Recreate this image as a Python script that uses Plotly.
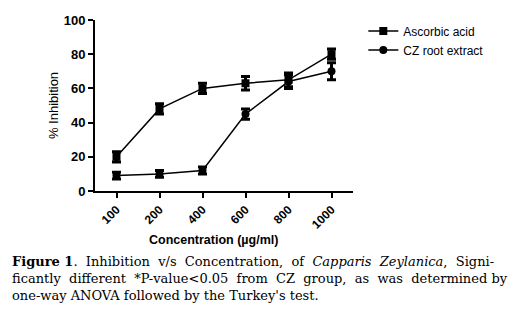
import plotly.graph_objects as go

categories = ["100", "200", "400", "600", "800", "1000"]
ascorbic = [20, 48, 60, 63, 65, 80]
ascorbic_err = [3, 3, 3, 4, 4, 3]
cz_root = [9, 10, 12, 45, 64, 70]
cz_err = [2, 2, 2, 3, 4, 5]
y_ticks = [0, 20, 40, 60, 80, 100]

fig = go.Figure()
fig.add_trace(go.Scatter(
    x=categories, y=ascorbic, name="Ascorbic acid", mode="lines+markers",
    line=dict(color="black", width=1.5),
    marker=dict(symbol="square", size=8, color="black"),
    error_y=dict(type="data", array=ascorbic_err, color="black", thickness=3, width=4.5),
))
fig.add_trace(go.Scatter(
    x=categories, y=cz_root, name="CZ root extract", mode="lines+markers",
    line=dict(color="black", width=1.5),
    marker=dict(symbol="circle", size=8, color="black"),
    error_y=dict(type="data", array=cz_err, color="black", thickness=3, width=4.5),
))

fig.add_annotation(x=categories[-1], y=ascorbic[-1] + ascorbic_err[-1], yshift=12,
                   text="*", showarrow=False, font=dict(size=12, color="#4a6a9a", family="Arial"))

# x-axis title
fig.add_annotation(xref="paper", yref="paper", x=(213 - 95) / 258, y=(191 - 240) / 171,
                   xanchor="center", yanchor="middle", text="Concentration (µg/ml)", showarrow=False,
                   font=dict(size=12.5, family="Arial", weight="bold", color="black"))

sp = "&nbsp;"
line1 = ("<b>Figure 1</b>." + sp + " Inhibition " + sp + "v/s " + sp + "Concentration, " + sp + "of " + sp
         + "<i>Capparis</i> " + sp + "<i>Zeylanica</i>, " + sp + "Signi-")
line2 = ("ficantly " + sp + "different " + sp + "*P-value&lt;0.05 " + sp + "from " + sp + "CZ " + sp + "group, "
         + sp + "as " + sp + "was " + sp + "determined " + "by")
line3 = "one-way ANOVA followed by the Turkey's test."
for txt, ypx in [(line1, 261), (line2, 278), (line3, 295)]:
    fig.add_annotation(xref="paper", yref="paper", x=(10 - 95) / 258, y=(191 - ypx) / 171,
                       xanchor="left", yanchor="middle", align="left", text=txt,
                       showarrow=False, font=dict(size=13, family="DejaVu Serif", color="black"))

fig.update_layout(
    width=515, height=312,
    margin=dict(l=95, r=162, t=20, b=121),
    plot_bgcolor="white", paper_bgcolor="white",
    font=dict(family="Arial", color="black"),
    showlegend=True,
    legend=dict(x=1.04, y=1.02, xanchor="left", yanchor="top", itemwidth=30,
                font=dict(size=12, family="Arial", color="black"),
                bgcolor="rgba(0,0,0,0)", tracegroupgap=0),
    xaxis=dict(type="category", range=[-0.5, 5.5], showline=True, linecolor="black", linewidth=2,
               ticks="outside", ticklen=5, tickwidth=2, tickcolor="black", tickangle=-45,
               tickfont=dict(size=12, family="Arial", weight="bold"), showgrid=False, zeroline=False,
               automargin=False),
    yaxis=dict(range=[0, 100], tickvals=y_ticks, showline=True, linecolor="black", linewidth=2,
               ticks="outside", ticklen=5, tickwidth=2, tickcolor="black", automargin=False,
               tickfont=dict(size=13, family="Arial", weight="bold"), showgrid=False, zeroline=False,
               title=dict(text="% Inhibition", font=dict(size=13, family="Arial"), standoff=2)),
)

fig.write_html("out.html", config={"displayModeBar": False},
               post_script="document.body.style.margin='0px';")
